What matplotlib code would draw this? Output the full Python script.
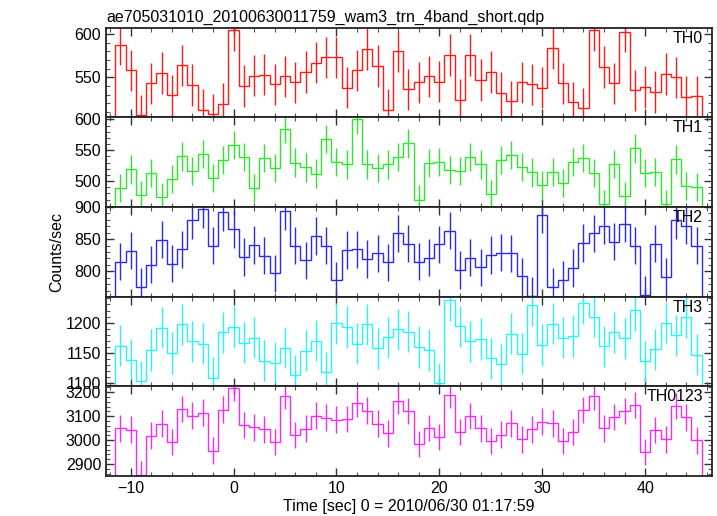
import numpy as np
import matplotlib
matplotlib.use("Agg")
import matplotlib.pyplot as plt
from matplotlib.ticker import MultipleLocator

plt.rcParams['font.family'] = ['Liberation Sans', 'DejaVu Sans']

# bin centres (1 s bins)
time = np.arange(-11, 46)

th0 = [588, 558, 506, 543, 555, 529, 564, 541, 512, 507, 519, 605, 540, 552, 553, 542,
       551, 544, 556, 567, 573, 573, 538, 558, 583, 563, 512, 580, 536, 544, 551, 545,
       576, 524, 576, 547, 556, 532, 522, 544, 542, 538, 584, 543, 521, 514, 605, 562,
       543, 603, 535, 539, 533, 554, 550, 527, 528]
th1 = [489, 519, 477, 513, 474, 503, 540, 516, 544, 505, 534, 559, 539, 489, 537, 521,
       584, 530, 522, 512, 568, 531, 527, 600, 527, 521, 527, 539, 561, 470, 529, 531,
       518, 516, 539, 527, 479, 534, 542, 523, 514, 493, 515, 497, 531, 537, 513, 463,
       528, 475, 553, 513, 515, 463, 535, 492, 490]
th2 = [815, 832, 776, 810, 849, 812, 834, 879, 896, 840, 892, 865, 822, 841, 824, 797,
       893, 840, 817, 855, 840, 786, 833, 834, 819, 828, 814, 859, 843, 815, 821, 842,
       863, 802, 821, 806, 825, 829, 828, 792, 762, 888, 776, 787, 805, 844, 859, 871,
       846, 874, 840, 763, 843, 791, 879, 871, 840]
th3 = [1162, 1139, 1103, 1155, 1192, 1150, 1197, 1169, 1165, 1109, 1184, 1193, 1167, 1175,
       1137, 1134, 1159, 1113, 1154, 1170, 1118, 1199, 1193, 1165, 1197, 1158, 1176, 1189,
       1185, 1160, 1155, 1100, 1237, 1194, 1169, 1173, 1141, 1131, 1182, 1149, 1229, 1163,
       1198, 1175, 1178, 1232, 1210, 1161, 1184, 1174, 1221, 1136, 1156, 1200, 1179, 1209,
       1147]
th0123 = [3050, 3043, 2855, 3018, 3068, 2992, 3130, 3102, 3115, 2956, 3127, 3218, 3063,
          3053, 3046, 2992, 3185, 3021, 3048, 3102, 3094, 3085, 3088, 3154, 3123, 3068,
          3029, 3164, 3122, 2984, 3051, 3013, 3189, 3034, 3101, 3050, 2996, 3022, 3071,
          3004, 3046, 3077, 3071, 2996, 3034, 3126, 3183, 3050, 3097, 3122, 3147, 2950,
          3042, 3004, 3143, 3095, 3000]

# typical 1-sigma error per panel (counts/sec)
errors = [24, 23, 29, 34, 56]
names = ['TH0', 'TH1', 'TH2', 'TH3', 'TH0123']
colors = ['#ff1a1a', '#2ee62e', '#2a2ae8', '#2af5f5', '#f52af5']
ylims = [(503.8, 607.7), (458, 603.7), (760.6, 900), (1095, 1243), (2850, 3225)]
major = [50, 50, 50, 50, 100]
minor = [10, 10, 10, 10, 20]

fig = plt.figure(figsize=(7.17, 5.16), dpi=100)
left, right = 106 / 717, 712 / 717
top, bottom = 1 - 27.5 / 516, 1 - 476 / 516
h = (top - bottom) / 5

series = [th0, th1, th2, th3, th0123]
edges = np.append(time - 0.5, time[-1] + 0.5)

axes = []
for i, vals in enumerate(series):
    ax = fig.add_axes([left, top - (i + 1) * h, right - left, h])
    ax.stairs(vals, edges, color=colors[i], lw=1.0)
    ax.errorbar(time, vals, yerr=errors[i], fmt='none', ecolor=colors[i], elinewidth=1.0)
    ax.set_xlim(-12.4, 46.5)
    ax.set_ylim(*ylims[i])
    ax.xaxis.set_major_locator(MultipleLocator(10))
    ax.xaxis.set_minor_locator(MultipleLocator(2))
    ax.yaxis.set_major_locator(MultipleLocator(major[i]))
    ax.yaxis.set_minor_locator(MultipleLocator(minor[i]))
    ax.tick_params(which='both', direction='in', top=True, right=True, labelsize=11.5)
    ax.tick_params(which='major', length=6, width=1, color='#333333')
    ax.tick_params(which='minor', length=3, width=0.8, color='#555555')
    for sp in ax.spines.values():
        sp.set_linewidth(1.3)
        sp.set_color('#222222')
    if i < 4:
        ax.tick_params(labelbottom=False)
    ax.text(0.985, 0.965, names[i], transform=ax.transAxes, ha='right', va='top',
            fontsize=11.5)
    axes.append(ax)

axes[0].set_title('ae705031010_20100630011759_wam3_trn_4band_short.qdp', loc='left',
                  fontsize=11.5, pad=4)
axes[-1].set_xlabel('Time [sec] 0 = 2010/06/30 01:17:59', fontsize=11.5, labelpad=2)
fig.text(57 / 717, 0.5 * (top + bottom), 'Counts/sec', rotation=90, ha='center',
         va='center', fontsize=11.5)

fig.savefig('out.png', dpi=100)
